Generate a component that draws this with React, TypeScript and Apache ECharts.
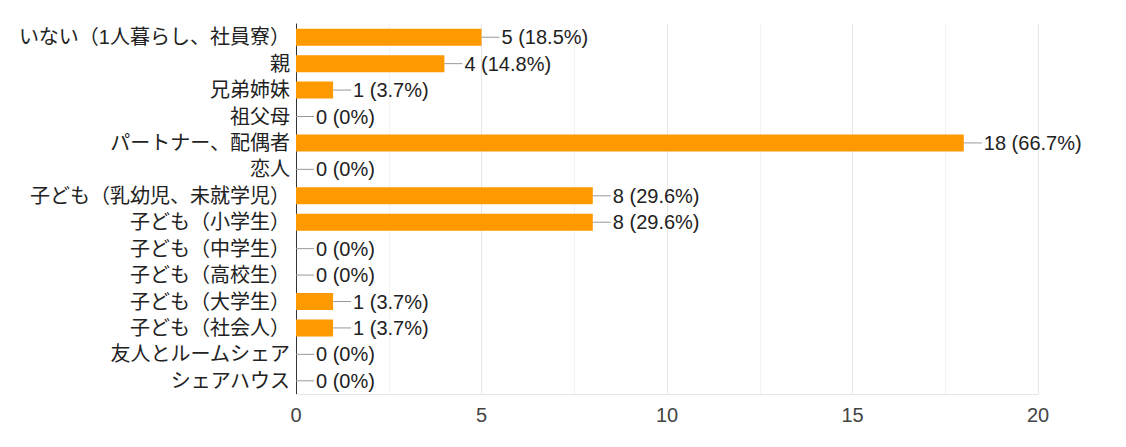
import React, { useEffect, useRef } from "react";
import * as echarts from "echarts";

const categories = [
  "いない（1人暮らし、社員寮）",
  "親",
  "兄弟姉妹",
  "祖父母",
  "パートナー、配偶者",
  "恋人",
  "子ども（乳幼児、未就学児）",
  "子ども（小学生）",
  "子ども（中学生）",
  "子ども（高校生）",
  "子ども（大学生）",
  "子ども（社会人）",
  "友人とルームシェア",
  "シェアハウス",
];
const counts = [5, 4, 1, 0, 18, 0, 8, 8, 0, 0, 1, 1, 0, 0];
const percents = ["18.5%", "14.8%", "3.7%", "0%", "66.7%", "0%", "29.6%", "29.6%", "0%", "0%", "3.7%", "3.7%", "0%", "0%"];
const xTicks = { min: 0, max: 20, interval: 5 };

const FONT = "'Liberation Sans', Arial, 'Noto Sans CJK JP', sans-serif";

export default function App() {
  const ref = useRef<HTMLDivElement>(null);
  useEffect(() => {
    const chart = echarts.init(ref.current!, null, { renderer: "svg" });
    chart.setOption({
      animation: false,
      grid: { left: 288, right: 80, top: 16, bottom: 45, containLabel: false },
      xAxis: {
        type: "value",
        min: xTicks.min,
        max: xTicks.max,
        interval: xTicks.interval,
        axisLine: { show: true, lineStyle: { color: "#e6e6e6" } },
        axisTick: { show: false },
        axisLabel: { color: "#444", fontSize: 20, fontFamily: FONT, margin: 11 },
        splitLine: { show: true, lineStyle: { color: "#e6e6e6", width: 1 } },
        minorTick: { show: false, splitNumber: 2 },
        minorSplitLine: { show: true, lineStyle: { color: "#f2f2f2", width: 1 } },
      },
      yAxis: {
        type: "category",
        data: categories,
        inverse: true,
        axisLine: { show: true, lineStyle: { color: "#333", width: 1 } },
        axisTick: { show: false },
        axisLabel: { color: "#222", fontSize: 20, fontFamily: FONT, margin: 6 },
        splitLine: { show: false },
      },
      series: [
        {
          type: "bar",
          data: counts,
          barWidth: 17,
          itemStyle: { color: "#ff9900" },
          label: {
            show: true,
            position: "right",
            distance: 20,
            color: "#222",
            fontSize: 20,
            fontFamily: FONT,
            formatter: (p: any) => `${counts[p.dataIndex]} (${percents[p.dataIndex]})`,
          },
          z: 3,
        },
        {
          type: "custom",
          data: counts.map((v, i) => [v, i]),
          encode: { x: 0, y: 1 },
          renderItem: (params: any, api: any) => {
            const p = api.coord([api.value(0), api.value(1)]);
            return {
              type: "line",
              shape: { x1: p[0], y1: p[1], x2: p[0] + 18, y2: p[1] },
              style: { stroke: "#999", lineWidth: 1 },
            };
          },
          z: 4,
          silent: true,
        },
      ],
    });
    return () => chart.dispose();
  }, []);
  return <div ref={ref} style={{ width: 1110, height: 431 }} />;
}
